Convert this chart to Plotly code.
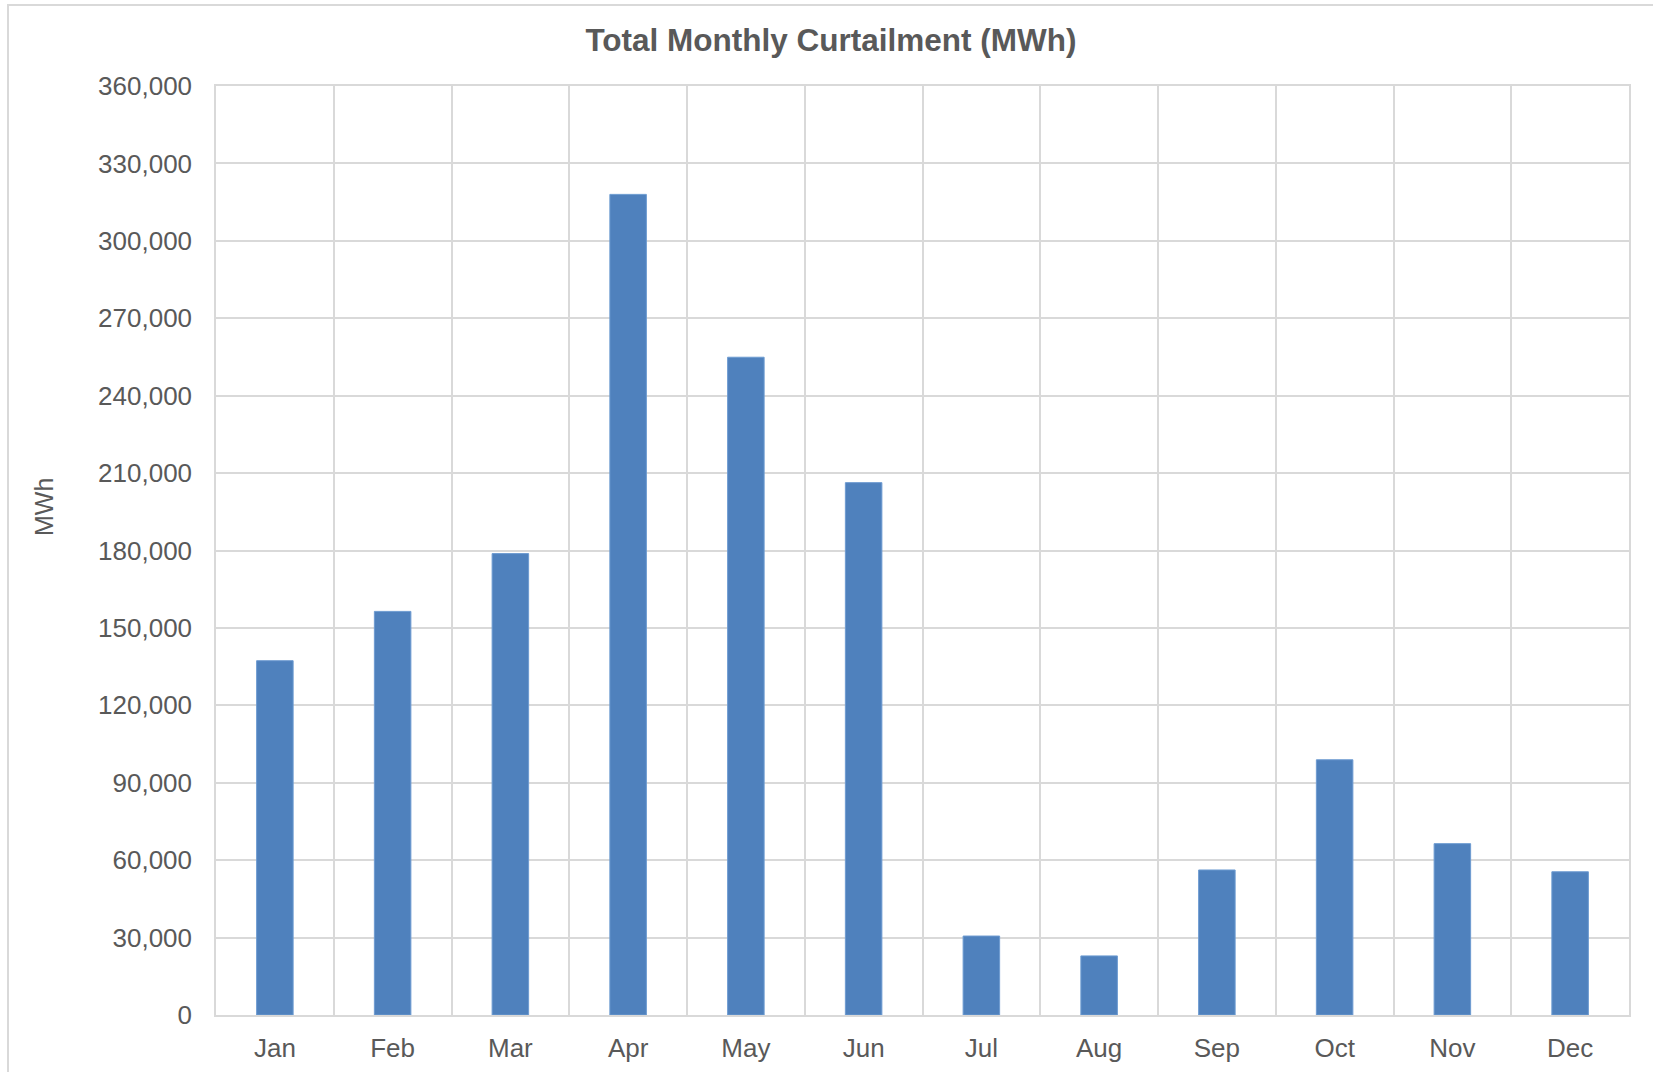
import plotly.graph_objects as go

months = ["Jan", "Feb", "Mar", "Apr", "May", "Jun", "Jul", "Aug", "Sep", "Oct", "Nov", "Dec"]
curtailment_mwh = [137300, 156400, 178800, 318000, 254900, 206300, 30600, 22900, 56200, 98900, 66400, 55500]
y_ticks = list(range(0, 360001, 30000))

W, H = 1653, 1072
L, R, T, B = 216, 24, 86, 57
pw, ph = W - L - R, H - T - B

grid = "#d9d9d9"
txt = "#595959"
font_family = "Liberation Sans, Arial, sans-serif"

fig = go.Figure(
    go.Bar(
        x=months,
        y=curtailment_mwh,
        marker=dict(color="#4F81BD", line=dict(color="#6d9bd1", width=1)),
        width=0.31,
    )
)

fig.update_layout(
    width=W,
    height=H,
    margin=dict(l=L, r=R, t=T, b=B, autoexpand=False),
    paper_bgcolor="white",
    plot_bgcolor="white",
    showlegend=False,
    font=dict(family=font_family, color=txt, size=26),
    title=dict(
        text="<b>Total Monthly Curtailment (MWh)</b>",
        x=831 / W,
        xanchor="center",
        y=1 - 40 / H,
        yanchor="middle",
        yref="container",
        font=dict(size=31.5, color=txt, family=font_family),
    ),
    xaxis=dict(
        type="category",
        automargin=False,
        tickson="boundaries",
        showgrid=True,
        gridcolor=grid,
        gridwidth=1.5,
        showline=True,
        linecolor=grid,
        linewidth=1.5,
        mirror=True,
        ticks="",
        ticklabelstandoff=9,
        tickfont=dict(size=26, color=txt),
        range=[-0.5, 11.5],
    ),
    yaxis=dict(
        range=[0, 360000],
        automargin=False,
        tickvals=y_ticks,
        tickformat=",",
        showgrid=True,
        gridcolor=grid,
        gridwidth=1.5,
        showline=True,
        linecolor=grid,
        linewidth=1.5,
        mirror=True,
        zeroline=False,
        ticks="",
        ticklabelstandoff=17,
        tickfont=dict(size=26, color=txt),
    ),
    annotations=[
        dict(
            text="MWh",
            xref="paper",
            yref="paper",
            x=(44.5 - L) / pw,
            y=(H - B - 507.5) / ph,
            xanchor="center",
            yanchor="middle",
            textangle=-90,
            showarrow=False,
            font=dict(size=25, color=txt, family=font_family),
        )
    ],
    shapes=[
        dict(
            type="rect",
            xref="paper",
            yref="paper",
            x0=(8 - L) / pw,
            x1=(W + 10 - L) / pw,
            y0=(H - B - (H + 10)) / ph,
            y1=(H - B - 5) / ph,
            line=dict(color=grid, width=2),
            fillcolor="rgba(0,0,0,0)",
            layer="below",
        )
    ],
)

fig.write_html(
    "out.html",
    config={"displayModeBar": False},
    post_script="document.body.style.margin='0';document.body.style.overflow='hidden';",
)
